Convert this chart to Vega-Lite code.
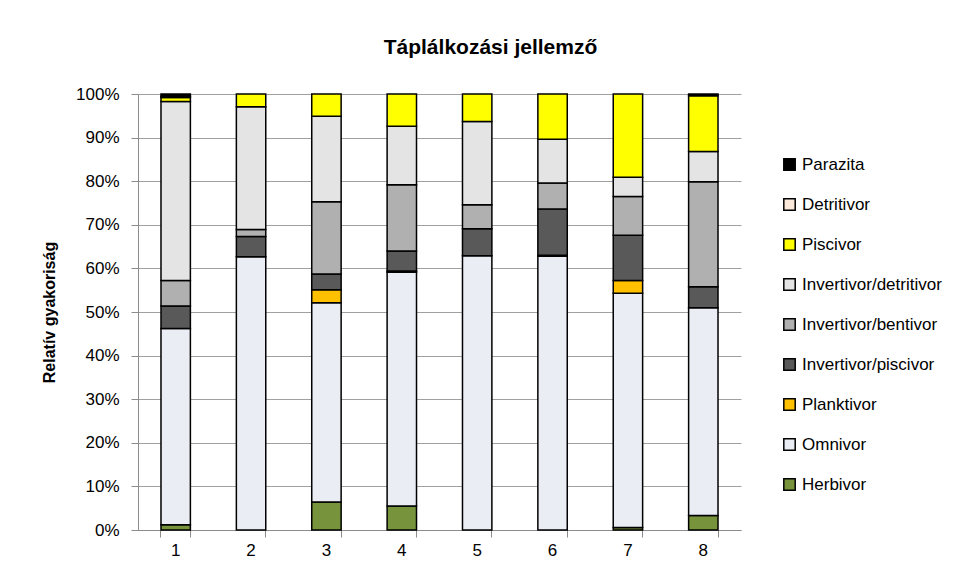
{
  "$schema": "https://vega.github.io/schema/vega-lite/v6.json",
  "width": 603,
  "height": 436,
  "autosize": {"type": "none"},
  "padding": {"left": 138, "top": 94, "right": 221, "bottom": 49},
  "background": "white",
  "config": {"view": {"stroke": null}, "font": "Liberation Sans"},
  "title": {"text": "Táplálkozási jellemző", "font": "Liberation Sans", "fontSize": 21, "fontWeight": "bold", "color": "black", "anchor": "middle", "dx": 51, "offset": 27},
  "datasets": {
    "groups": [
      {"group": "Herbivor", "o": 1},
      {"group": "Omnivor", "o": 2},
      {"group": "Planktivor", "o": 3},
      {"group": "Invertivor/piscivor", "o": 4},
      {"group": "Invertivor/bentivor", "o": 5},
      {"group": "Invertivor/detritivor", "o": 6},
      {"group": "Piscivor", "o": 7},
      {"group": "Detritivor", "o": 8},
      {"group": "Parazita", "o": 9}
    ]
  },
  "data": {
    "values": [
      {"site": "1", "group": "Herbivor", "v": 1.2},
      {"site": "1", "group": "Omnivor", "v": 45.0},
      {"site": "1", "group": "Invertivor/piscivor", "v": 5.2},
      {"site": "1", "group": "Invertivor/bentivor", "v": 5.8},
      {"site": "1", "group": "Invertivor/detritivor", "v": 41.1},
      {"site": "1", "group": "Piscivor", "v": 0.9},
      {"site": "1", "group": "Detritivor", "v": 0.3},
      {"site": "1", "group": "Parazita", "v": 0.5},
      {"site": "2", "group": "Omnivor", "v": 62.7},
      {"site": "2", "group": "Invertivor/piscivor", "v": 4.6},
      {"site": "2", "group": "Invertivor/bentivor", "v": 1.6},
      {"site": "2", "group": "Invertivor/detritivor", "v": 28.2},
      {"site": "2", "group": "Piscivor", "v": 2.9},
      {"site": "3", "group": "Herbivor", "v": 6.4},
      {"site": "3", "group": "Omnivor", "v": 45.7},
      {"site": "3", "group": "Planktivor", "v": 3.0},
      {"site": "3", "group": "Invertivor/piscivor", "v": 3.6},
      {"site": "3", "group": "Invertivor/bentivor", "v": 16.6},
      {"site": "3", "group": "Invertivor/detritivor", "v": 19.6},
      {"site": "3", "group": "Piscivor", "v": 5.1},
      {"site": "4", "group": "Herbivor", "v": 5.5},
      {"site": "4", "group": "Omnivor", "v": 53.6},
      {"site": "4", "group": "Planktivor", "v": 0.3},
      {"site": "4", "group": "Invertivor/piscivor", "v": 4.6},
      {"site": "4", "group": "Invertivor/bentivor", "v": 15.2},
      {"site": "4", "group": "Invertivor/detritivor", "v": 13.4},
      {"site": "4", "group": "Piscivor", "v": 7.4},
      {"site": "5", "group": "Omnivor", "v": 62.9},
      {"site": "5", "group": "Invertivor/piscivor", "v": 6.2},
      {"site": "5", "group": "Invertivor/bentivor", "v": 5.5},
      {"site": "5", "group": "Invertivor/detritivor", "v": 19.1},
      {"site": "5", "group": "Piscivor", "v": 6.3},
      {"site": "6", "group": "Omnivor", "v": 62.8},
      {"site": "6", "group": "Planktivor", "v": 0.2},
      {"site": "6", "group": "Invertivor/piscivor", "v": 10.6},
      {"site": "6", "group": "Invertivor/bentivor", "v": 6.0},
      {"site": "6", "group": "Invertivor/detritivor", "v": 10.0},
      {"site": "6", "group": "Piscivor", "v": 10.4},
      {"site": "7", "group": "Herbivor", "v": 0.6},
      {"site": "7", "group": "Omnivor", "v": 53.7},
      {"site": "7", "group": "Planktivor", "v": 2.9},
      {"site": "7", "group": "Invertivor/piscivor", "v": 10.4},
      {"site": "7", "group": "Invertivor/bentivor", "v": 8.9},
      {"site": "7", "group": "Invertivor/detritivor", "v": 4.4},
      {"site": "7", "group": "Piscivor", "v": 19.1},
      {"site": "8", "group": "Herbivor", "v": 3.3},
      {"site": "8", "group": "Omnivor", "v": 47.7},
      {"site": "8", "group": "Invertivor/piscivor", "v": 4.8},
      {"site": "8", "group": "Invertivor/bentivor", "v": 24.1},
      {"site": "8", "group": "Invertivor/detritivor", "v": 6.9},
      {"site": "8", "group": "Piscivor", "v": 12.8},
      {"site": "8", "group": "Parazita", "v": 0.4}
    ]
  },
  "transform": [
    {"lookup": "group", "from": {"data": {"name": "groups"}, "key": "group", "fields": ["o"]}}
  ],
  "mark": {"type": "bar", "stroke": "black", "strokeWidth": 1.5},
  "encoding": {
    "x": {
      "field": "site",
      "type": "ordinal",
      "scale": {"paddingInner": 0.61, "paddingOuter": 0.305},
      "axis": {
        "title": null,
        "labelAngle": 0,
        "labelFont": "Liberation Sans",
        "labelFontSize": 17,
        "labelColor": "black",
        "labelPadding": 5,
        "tickSize": 7,
        "bandPosition": 1,
        "tickExtra": true,
        "tickColor": "#8c8c8c",
        "domainColor": "#8c8c8c",
        "grid": false
      }
    },
    "y": {
      "field": "v",
      "type": "quantitative",
      "stack": "normalize",
      "scale": {"domain": [0, 1]},
      "axis": {
        "values": [0, 0.1, 0.2, 0.3, 0.4, 0.5, 0.6, 0.7, 0.8, 0.9, 1],
        "format": ".0%",
        "title": "Relatív  gyakoriság",
        "titleFont": "Liberation Sans",
        "titleFontSize": 16,
        "titleFontWeight": "bold",
        "titleColor": "black",
        "titlePadding": 18,
        "labelFont": "Liberation Sans",
        "labelFontSize": 17,
        "labelColor": "black",
        "labelPadding": 12,
        "tickSize": 7,
        "tickColor": "#8c8c8c",
        "domainColor": "#8c8c8c",
        "grid": true,
        "gridColor": "#a0a0a0"
      }
    },
    "color": {
      "field": "group",
      "type": "nominal",
      "scale": {
        "domain": ["Parazita", "Detritivor", "Piscivor", "Invertivor/detritivor", "Invertivor/bentivor", "Invertivor/piscivor", "Planktivor", "Omnivor", "Herbivor"],
        "range": ["#000000", "#fde9d9", "#ffff00", "#e4e4e4", "#b0b0b0", "#595959", "#ffc000", "#eaeef4", "#77933c"]
      },
      "legend": {
        "orient": "none",
        "legendX": 643,
        "legendY": 62,
        "title": null,
        "symbolType": "square",
        "symbolSize": 130,
        "symbolStrokeColor": "black",
        "symbolStrokeWidth": 1.5,
        "labelFont": "Liberation Sans",
        "labelFontSize": 17,
        "labelColor": "black",
        "labelOffset": 4,
        "rowPadding": 21
      }
    },
    "order": {"field": "o", "type": "quantitative"}
  }
}
